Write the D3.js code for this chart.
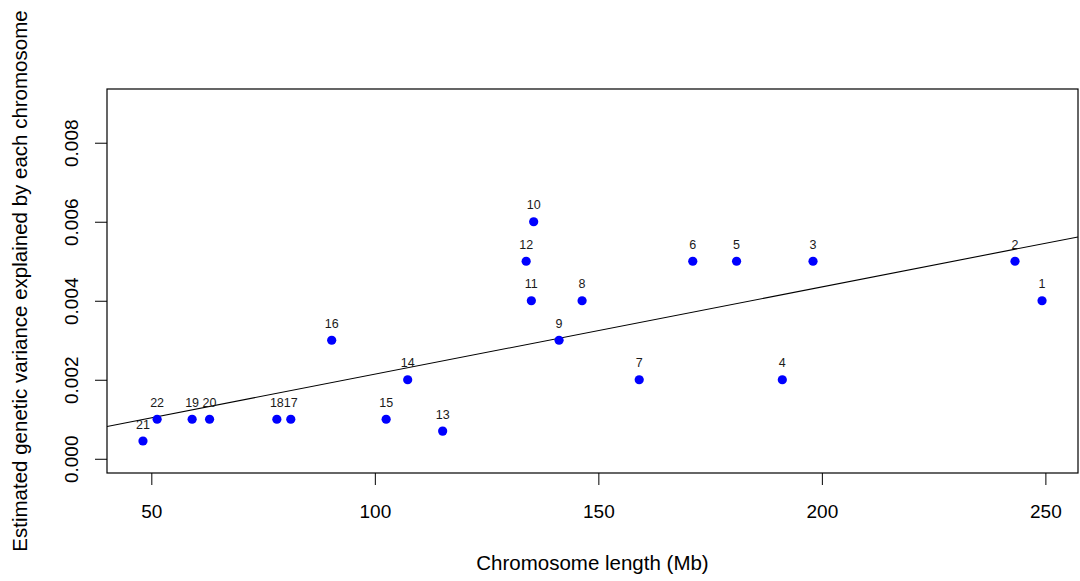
<!DOCTYPE html>
<html>
<head>
<meta charset="utf-8">
<script src="https://cdn.jsdelivr.net/npm/d3@7"></script>
<style>
    body { margin: 0; background: #fff; }
    text { font-family: "Liberation Sans", Arial, sans-serif; }
</style>
</head>
<body>
<div id="chart"></div>
<script>

// chromosome number, length (Mb), estimated variance explained
const chromosomes = [1, 2, 3, 4, 5, 6, 7, 8, 9, 10, 11, 12, 13, 14, 15, 16, 17, 18, 19, 20, 21, 22];
const lengths_mb = [249.25, 243.2, 198.02, 191.15, 180.92, 171.12, 159.14, 146.36, 141.21, 135.53, 135.01,
                    133.85, 115.17, 107.35, 102.53, 90.35, 81.2, 78.08, 59.13, 63.03, 48.13, 51.3];
const variance = [0.004, 0.005, 0.005, 0.002, 0.005, 0.005, 0.002, 0.004, 0.003, 0.006, 0.004,
                  0.005, 0.0007, 0.002, 0.001, 0.003, 0.001, 0.001, 0.001, 0.001, 0.00045, 0.001];

const x_ticks = [50, 100, 150, 200, 250];
const y_ticks = [0, 0.002, 0.004, 0.006, 0.008];
const y_limits = [0, 0.009];

const x_label = "Chromosome length (Mb)";
const y_label = "Estimated genetic variance explained by each chromosome";

const dataset = chromosomes.map((c, i) => ({chr: c, len: lengths_mb[i], v: variance[i]}));

const margin = {top: 89, right: 2, bottom: 108, left: 107};
const width = 1080 - margin.left - margin.right;
const height = 581 - margin.top - margin.bottom;

// R style 4% axis extension
function extend(lo, hi) {
    let pad = (hi - lo) * 0.04;
    return [lo - pad, hi + pad];
}

const x_scale = d3.scaleLinear()
    .domain(extend(d3.min(lengths_mb), d3.max(lengths_mb)))
    .range([0, width]);

const y_scale = d3.scaleLinear()
    .domain(extend(y_limits[0], y_limits[1]))
    .range([height, 0]);

const svg = d3.select("#chart")
    .append("svg")
    .attr("width", 1080)
    .attr("height", 581)
    .append("g")
    .attr("transform", "translate(" + margin.left + "," + margin.top + ")");

// axes
const x_axis = svg.append("g")
    .attr("transform", "translate(0," + height + ")")
    .call(d3.axisBottom(x_scale).tickValues(x_ticks).tickSize(12).tickPadding(20).tickFormat(d3.format("d")));

const y_axis = svg.append("g")
    .call(d3.axisLeft(y_scale).tickValues(y_ticks).tickSize(12).tickFormat(d3.format(".3f")));

[x_axis, y_axis].forEach(function (ax) {
    ax.select(".domain").remove();
    ax.selectAll(".tick line").attr("stroke", "#000");
    ax.selectAll(".tick text")
        .attr("fill", "#000")
        .style("font-size", "19px");
});

y_axis.selectAll(".tick text")
    .attr("x", null).attr("dy", null)
    .attr("text-anchor", "middle")
    .attr("transform", "translate(-35.5,0) rotate(-90)")
    .attr("dy", "0.35em");

// box
svg.append("rect")
    .attr("width", width)
    .attr("height", height)
    .attr("fill", "none")
    .attr("stroke", "#000")
    .attr("stroke-width", 1.2);

// axis titles
svg.append("text")
    .attr("x", width / 2)
    .attr("y", height + 97)
    .attr("text-anchor", "middle")
    .style("font-size", "20.5px")
    .text(x_label);

svg.append("text")
    .attr("transform", "translate(" + (-80) + "," + (height / 2) + ") rotate(-90)")
    .attr("text-anchor", "middle")
    .style("font-size", "20.5px")
    .text(y_label);

// clip
svg.append("defs").append("clipPath")
    .attr("id", "clip")
    .append("rect")
    .attr("width", width)
    .attr("height", height);

// least squares fit, like abline(lm(v ~ len))
const mean_x = d3.mean(lengths_mb);
const mean_y = d3.mean(variance);
let sxy = 0, sxx = 0;
dataset.forEach(function (d) {
    sxy += (d.len - mean_x) * (d.v - mean_y);
    sxx += (d.len - mean_x) * (d.len - mean_x);
});
const slope = sxy / sxx;
const intercept = mean_y - slope * mean_x;

const x_dom = x_scale.domain();
svg.append("g")
    .attr("clip-path", "url(#clip)")
    .append("line")
    .attr("x1", x_scale(x_dom[0]))
    .attr("y1", y_scale(intercept + slope * x_dom[0]))
    .attr("x2", x_scale(x_dom[1]))
    .attr("y2", y_scale(intercept + slope * x_dom[1]))
    .attr("stroke", "#000")
    .attr("stroke-width", 1.1);

// points
const plot = svg.append("g");

plot.selectAll("circle")
    .data(dataset)
    .enter()
    .append("circle")
    .attr("cx", d => x_scale(d.len))
    .attr("cy", d => y_scale(d.v))
    .attr("r", 4.6)
    .style("fill", "#0000ff");

plot.selectAll("text")
    .data(dataset)
    .enter()
    .append("text")
    .attr("x", d => x_scale(d.len))
    .attr("y", d => y_scale(d.v) - 12.5)
    .attr("text-anchor", "middle")
    .style("font-size", "12.5px")
    .style("fill", "#1a1a1a")
    .text(d => d.chr);

</script>
</body>
</html>
